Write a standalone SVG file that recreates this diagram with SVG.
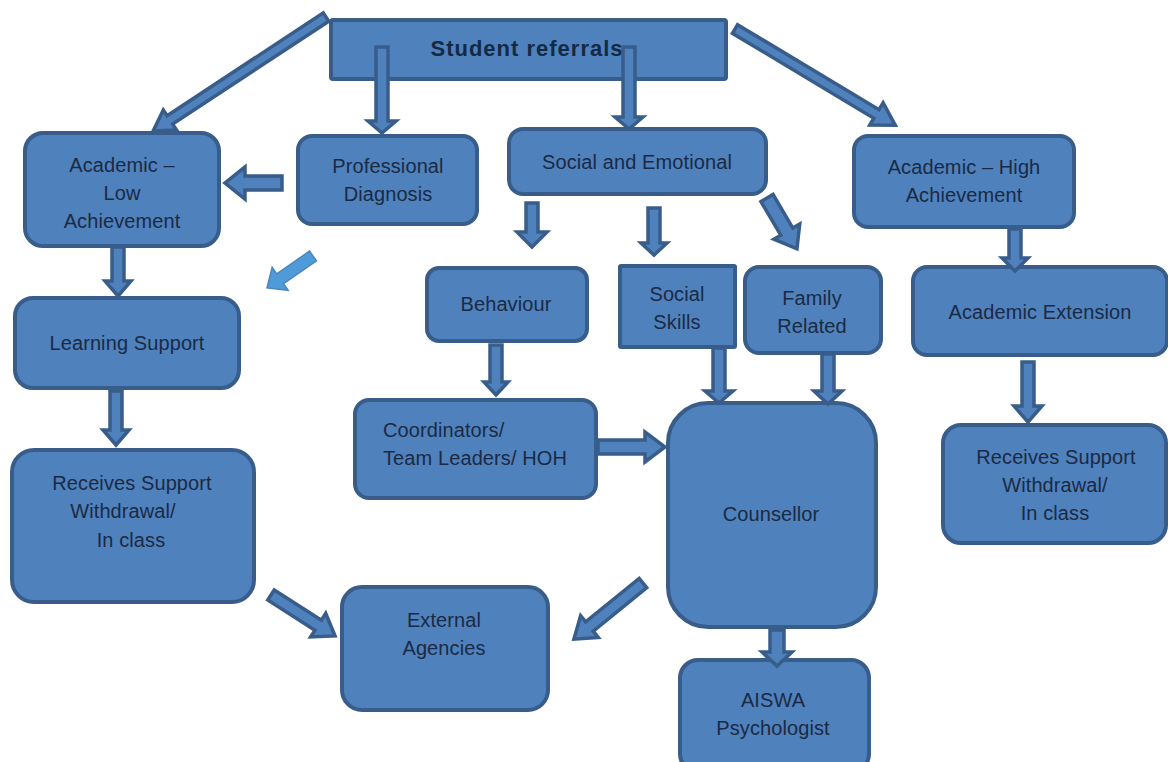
<svg xmlns="http://www.w3.org/2000/svg" width="1168" height="762" viewBox="0 0 1168 762">
<style>
.n{fill:#4F81BD;stroke:#385D8A;stroke-width:4}
.t{font-family:"Liberation Sans",Arial,sans-serif;font-size:20px;letter-spacing:0.1px;fill:#1B2A44;text-anchor:middle}
.tb{font-family:"Liberation Sans",Arial,sans-serif;font-size:22px;font-weight:bold;letter-spacing:1px;fill:#142A44;text-anchor:middle}
.a{fill:#4F81BD;stroke:#385D8A;stroke-width:3.5;stroke-linejoin:miter}
.al{fill:#4F9BD8;stroke:#4A86C0;stroke-width:1.5}
</style>
<rect width="1168" height="762" fill="#FFFFFF"/>
<g id="student-referrals"><rect class="n" x="331" y="20" width="395" height="59" rx="2"/><text class="tb" x="527" y="56">Student referrals</text></g>
<g id="academic-low"><rect class="n" x="25" y="133" width="194" height="113" rx="18"/><text class="t" x="122" y="172">Academic –</text><text class="t" x="122" y="200">Low</text><text class="t" x="122" y="228">Achievement</text></g>
<g id="professional-diagnosis"><rect class="n" x="298" y="136" width="179" height="88" rx="14"/><text class="t" x="388" y="173">Professional</text><text class="t" x="388" y="201">Diagnosis</text></g>
<g id="social-emotional"><rect class="n" x="509" y="129" width="257" height="65" rx="14"/><text class="t" x="637" y="169">Social and Emotional</text></g>
<g id="academic-high"><rect class="n" x="854" y="136" width="220" height="91" rx="14"/><text class="t" x="964" y="174">Academic – High</text><text class="t" x="964" y="202">Achievement</text></g>
<g id="learning-support"><rect class="n" x="15" y="298" width="224" height="90" rx="18"/><text class="t" x="127" y="350">Learning Support</text></g>
<g id="behaviour"><rect class="n" x="427" y="268" width="160" height="73" rx="12"/><text class="t" x="506" y="311">Behaviour</text></g>
<g id="social-skills"><rect class="n" x="620" y="266" width="115" height="81" rx="1"/><text class="t" x="677" y="301">Social</text><text class="t" x="677" y="329">Skills</text></g>
<g id="family-related"><rect class="n" x="745" y="267" width="136" height="86" rx="14"/><text class="t" x="812" y="305">Family</text><text class="t" x="812" y="333">Related</text></g>
<g id="academic-extension"><rect class="n" x="913" y="267" width="254" height="88" rx="14"/><text class="t" x="1040" y="319">Academic Extension</text></g>
<g id="coordinators"><rect class="n" x="355" y="400" width="241" height="98" rx="14"/><text class="t" x="383" y="437" style="text-anchor:start">Coordinators/</text><text class="t" x="383" y="465" style="text-anchor:start">Team Leaders/ HOH</text></g>
<g id="counsellor"><rect class="n" x="668" y="403" width="208" height="224" rx="40"/><text class="t" x="771" y="521">Counsellor</text></g>
<g id="receives-left"><rect class="n" x="12" y="450" width="242" height="152" rx="22"/><text class="t" x="132" y="490">Receives Support</text><text class="t" x="123" y="518">Withdrawal/</text><text class="t" x="131" y="547">In class</text></g>
<g id="receives-right"><rect class="n" x="943" y="425" width="223" height="118" rx="18"/><text class="t" x="1056" y="464">Receives Support</text><text class="t" x="1055" y="492">Withdrawal/</text><text class="t" x="1055" y="520">In class</text></g>
<g id="external-agencies"><rect class="n" x="342" y="587" width="206" height="123" rx="20"/><text class="t" x="444" y="627">External</text><text class="t" x="444" y="655">Agencies</text></g>
<g id="aiswa"><rect class="n" x="680" y="660" width="189" height="112" rx="18"/><text class="t" x="773" y="707">AISWA</text><text class="t" x="773" y="735">Psychologist</text></g>
<g id="connectors">
<polygon class="a" transform="translate(326,17) rotate(146.6)" points="0,-5 187,-5 187,-12 207,0 187,12 187,5 0,5"/>
<polygon class="a" points="376,47 388,47 388,121 396,121 382,133 368,121 376,121"/>
<polygon class="a" points="623,47 635,47 635,117 643,117 629,129 615,117 623,117"/>
<polygon class="a" transform="translate(735,29) rotate(31)" points="0,-5 165,-5 165,-13 187,0 165,13 165,5 0,5"/>
<polygon class="a" points="282,176 245,176 245,167 225,183 245,199 245,190 282,190"/>
<polygon class="al" transform="translate(313,256) rotate(145.2)" points="0,-6 40,-6 40,-14 56,0 40,14 40,6 0,6"/>
<polygon class="a" points="112,247 124,247 124,281 131,281 118,296 105,281 112,281"/>
<polygon class="a" points="110,391 122,391 122,430 129,430 116,445 103,430 110,430"/>
<polygon class="a" points="526,203 538,203 538,232 547,232 532,247 517,232 526,232"/>
<polygon class="a" points="648,208 660,208 660,243 667,243 654,255 641,243 648,243"/>
<polygon class="a" transform="translate(767,198) rotate(59.5)" points="0,-7 39,-7 39,-15 59,0 39,15 39,7 0,7"/>
<polygon class="a" points="490,345 502,345 502,382 508,382 496,395 484,382 490,382"/>
<polygon class="a" points="713,348 725,348 725,391 733,391 719,403 705,391 713,391"/>
<polygon class="a" points="822,354 834,354 834,391 842,391 828,404 814,391 822,391"/>
<polygon class="a" points="598,440 645,440 645,432 665,447 645,462 645,454 598,454"/>
<polygon class="a" points="1009,229 1021,229 1021,258 1028,258 1015,271 1002,258 1009,258"/>
<polygon class="a" points="1022,362 1034,362 1034,406 1042,406 1028,422 1014,406 1022,406"/>
<polygon class="a" transform="translate(271,595) rotate(32.6)" points="0,-6 56,-6 56,-14 76,0 56,14 56,6 0,6"/>
<polygon class="a" transform="translate(643,583) rotate(140.9)" points="0,-6 69,-6 69,-14 89,0 69,14 69,6 0,6"/>
<polygon class="a" points="770,630 784,630 784,652 792,652 777,666 762,652 770,652"/>
</g>
</svg>
